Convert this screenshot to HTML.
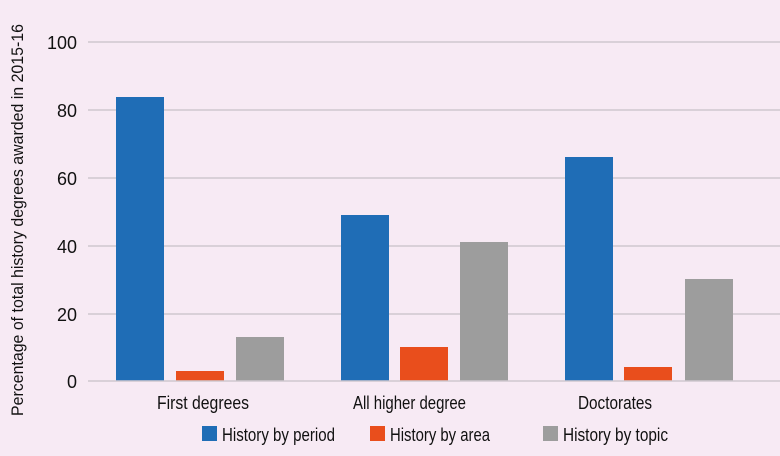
<!DOCTYPE html>
<html><head><meta charset="utf-8"><style>
html,body{margin:0;padding:0;background:#f7eaf4;}
svg{display:block;font-family:"Liberation Sans Narrow","Liberation Sans",sans-serif;}
</style></head><body>
<svg width="780" height="456" viewBox="0 0 780 456" xmlns="http://www.w3.org/2000/svg">
<rect width="780" height="456" fill="#f7eaf4"/>
<g stroke="#cfc8cf" stroke-width="1.5">
<line x1="88" y1="42" x2="780" y2="42"/>
<line x1="88" y1="110" x2="780" y2="110"/>
<line x1="88" y1="178" x2="780" y2="178"/>
<line x1="88" y1="246" x2="780" y2="246"/>
<line x1="88" y1="314" x2="780" y2="314"/>
</g>
<g font-size="18" fill="#111" text-anchor="end">
<text x="77" y="49" textLength="30" lengthAdjust="spacingAndGlyphs">100</text>
<text x="77" y="117" textLength="20" lengthAdjust="spacingAndGlyphs">80</text>
<text x="77" y="185" textLength="20" lengthAdjust="spacingAndGlyphs">60</text>
<text x="77" y="253" textLength="20" lengthAdjust="spacingAndGlyphs">40</text>
<text x="77" y="321" textLength="20" lengthAdjust="spacingAndGlyphs">20</text>
<text x="77" y="388">0</text>
</g>
<text transform="translate(23,220) rotate(-90)" text-anchor="middle" font-size="17" fill="#111" textLength="392" lengthAdjust="spacingAndGlyphs">Percentage of total history degrees awarded in 2015-16</text>
<g fill="#1f6db6">
<rect x="116" y="97" width="48" height="284"/>
<rect x="341" y="215" width="48" height="166"/>
<rect x="565" y="157" width="48" height="224"/>
</g>
<g fill="#e94e1c">
<rect x="176" y="371" width="48" height="10"/>
<rect x="400" y="347" width="48" height="34"/>
<rect x="624" y="367" width="48" height="14"/>
</g>
<g fill="#9d9d9d">
<rect x="236" y="337" width="48" height="44"/>
<rect x="460" y="242" width="48" height="139"/>
<rect x="685" y="279" width="48" height="102"/>
</g>
<line x1="88" y1="381" x2="780" y2="381" stroke="#cfc8cf" stroke-width="1.5"/>
<g font-size="18" fill="#111">
<text x="157" y="409" textLength="92" lengthAdjust="spacingAndGlyphs">First degrees</text>
<text x="353" y="409" textLength="113" lengthAdjust="spacingAndGlyphs">All higher degree</text>
<text x="578" y="409" textLength="74" lengthAdjust="spacingAndGlyphs">Doctorates</text>
</g>
<rect x="202" y="426" width="15" height="15" fill="#1f6db6"/>
<rect x="370" y="426" width="15" height="15" fill="#e94e1c"/>
<rect x="543" y="426" width="15" height="15" fill="#9d9d9d"/>
<g font-size="18" fill="#111">
<text x="222" y="441" textLength="113" lengthAdjust="spacingAndGlyphs">History by period</text>
<text x="390" y="441" textLength="100" lengthAdjust="spacingAndGlyphs">History by area</text>
<text x="563" y="441" textLength="105" lengthAdjust="spacingAndGlyphs">History by topic</text>
</g>
</svg>
</body></html>
